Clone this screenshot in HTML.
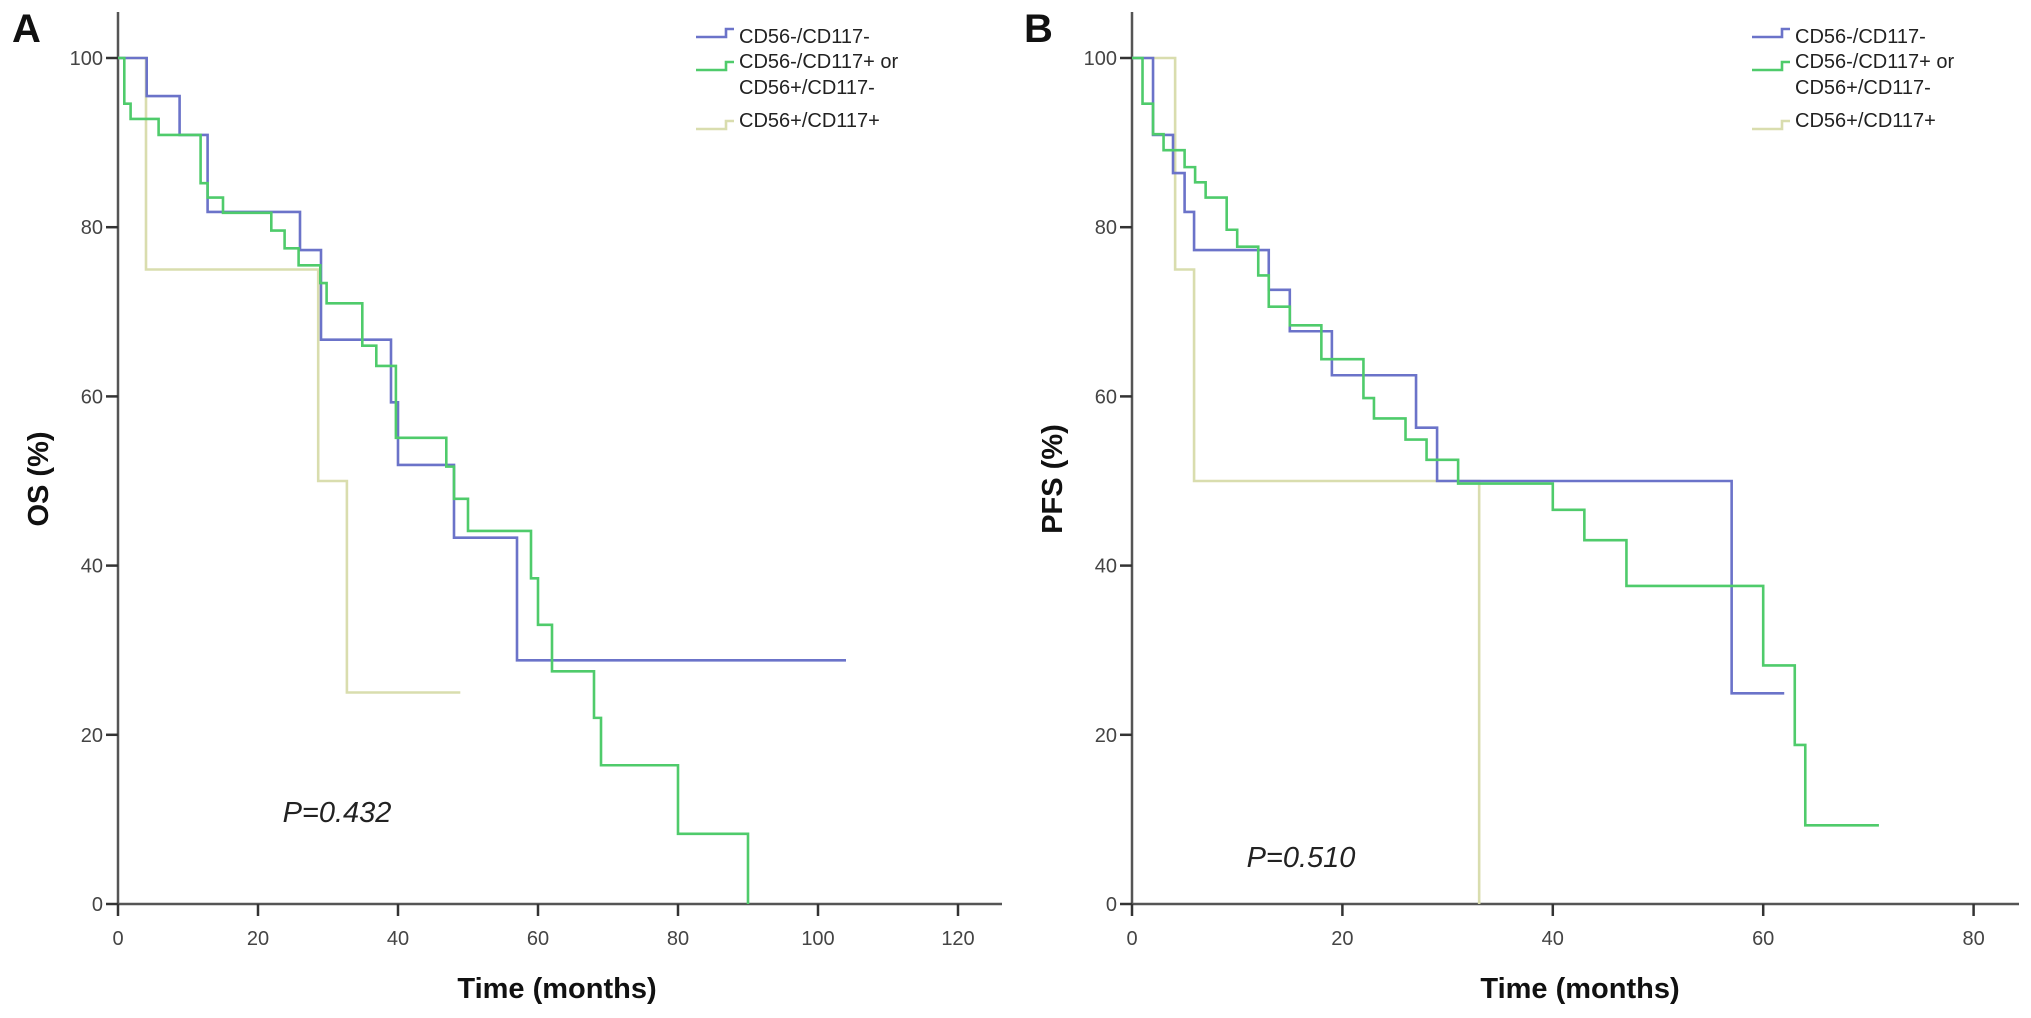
<!DOCTYPE html>
<html><head><meta charset="utf-8"><style>
body{margin:0;background:#fff;}
svg{display:block;font-family:"Liberation Sans",Arial,sans-serif;}
</style></head><body>
<svg id="chart" width="2031" height="1018" viewBox="0 0 2031 1018" xmlns="http://www.w3.org/2000/svg">
<g id="root"></g>
</svg>
<script>
// Panel A (OS)
const aBlueT=[4.1,8.8,12.8,26,29,39,40,48,57];
const aBlueS=[95.5,90.9,81.8,77.3,66.7,59.3,51.9,43.3,28.8];
const aBlueEnd=104;
const aGreenT=[0.9,1.8,5.8,11.8,12.8,15,21.9,23.8,25.8,28.9,29.8,34.9,36.9,39.7,46.9,48,50,59,60,62,68,69,80,90];
const aGreenS=[94.6,92.8,90.9,85.2,83.5,81.7,79.6,77.5,75.5,73.4,71,66,63.6,55.1,51.7,47.9,44.1,38.5,33,27.5,22,16.4,8.3,0];
const aGreenEnd=90;
const aYellowT=[4,28.6,32.7];
const aYellowS=[75,50,25];
const aYellowEnd=48.9;
const aXTicks=[0,20,40,60,80,100,120];
// Panel B (PFS)
const bBlueT=[2,3.9,5,5.9,13,15,19,27,29,57];
const bBlueS=[90.9,86.4,81.8,77.3,72.6,67.7,62.5,56.3,50,24.9];
const bBlueEnd=62;
const bGreenT=[1,2,3,5,6,7,9,10,12,13,15,18,22,23,26,28,31,40,43,47,60,63,64];
const bGreenS=[94.6,91,89.1,87.1,85.3,83.5,79.7,77.7,74.3,70.6,68.4,64.4,59.8,57.4,54.9,52.5,49.7,46.6,43,37.6,28.2,18.8,9.3];
const bGreenEnd=71;
const bYellowT=[4.1,5.9,33];
const bYellowS=[75,50,0];
const bYellowEnd=33;
const bXTicks=[0,20,40,60,80];
const yTicks=[0,20,40,60,80,100];
const legendLabels=[["CD56-/CD117-"],["CD56-/CD117+ or","CD56+/CD117-"],["CD56+/CD117+"]];

const NS="http://www.w3.org/2000/svg";
const root=document.getElementById('root');
const COLORS=["#6b73c9","#4fcb6b","#d9ddae"];
function mk(tag,attrs,parent){const e=document.createElementNS(NS,tag);for(const k in attrs)e.setAttribute(k,attrs[k]);(parent||root).appendChild(e);return e;}
function yScale(v){return 904-v*8.46;}

function panel(p){
  const g=mk('g',{});
  
  
  const xs=t=>p.x0+t*p.k;
  // axes
  const ya=mk('line',{x1:p.x0,y1:12,x2:p.x0,y2:905,stroke:'#555','stroke-width':2.5},g);
  
  
  const xa=mk('line',{x1:p.x0-1,y1:904,x2:p.xEnd,y2:904,stroke:'#555','stroke-width':2.5},g);
  
  
  yTicks.forEach(v=>{
    mk('line',{x1:p.x0-12,y1:yScale(v),x2:p.x0,y2:yScale(v),stroke:'#333','stroke-width':2.5},g);
    const t=mk('text',{x:p.x0-15,y:yScale(v)+7,'text-anchor':'end','font-size':20,fill:'#444'},g);
    t.textContent=v;
    
    
  });
  p.xticks.forEach(v=>{
    mk('line',{x1:xs(v),y1:904,x2:xs(v),y2:916,stroke:'#333','stroke-width':2.5},g);
    const t=mk('text',{x:xs(v),y:945,'text-anchor':'middle','font-size':20,fill:'#444'},g);
    t.textContent=v;
    
    
  });
  // series
  p.series.forEach((s,i)=>{
    let d='M'+xs(0)+','+yScale(100);
    for(let j=0;j<s.T.length;j++){d+=' H'+xs(s.T[j])+' V'+yScale(s.S[j]);}
    d+=' H'+xs(s.end);
    const path=mk('path',{d:d,fill:'none',stroke:COLORS[s.c],'stroke-width':2.6},g);
    
    
  });
  // titles
  const xt=mk('text',{x:p.xTitle,y:998,'text-anchor':'middle','font-size':29,'font-weight':'bold',fill:'#111'},g);
  xt.textContent='Time (months)';
  
  
  const yt=mk('text',{x:0,y:0,'text-anchor':'middle','font-size':29,'font-weight':'bold',fill:'#111',transform:'translate('+p.yTitleX+',479) rotate(-90)'},g);
  yt.textContent=p.yTitle;
  
  
  const lt=mk('text',{x:p.letterX,y:42,'font-size':40,'font-weight':'bold',fill:'#111'},g);
  lt.textContent=p.id;
  
  
  const pv=mk('text',{x:p.pX,y:p.pY,'text-anchor':'middle','font-size':29,'font-style':'italic',fill:'#222'},g);
  pv.textContent=p.pText;
  
  
  // legend
  const lg=mk('g',{},g);
  
  
  const rows=[[29,43],[60,[67,92]],[120,127]];
  legendLabels.forEach((lab,i)=>{
    const sy=[29,62,121][i];
    const sym=mk('path',{d:'M'+p.lx+','+(sy+8)+' H'+(p.lx+30)+' V'+sy+' H'+(p.lx+38),fill:'none',stroke:COLORS[i],'stroke-width':2.6},lg);
    
    
    const ys=[[43],[68,94],[127]][i];
    lab.forEach((L,k)=>{
      const t=mk('text',{x:p.lx+43,y:ys[k],'font-size':20,fill:'#222'},lg);
      t.textContent=L;
      
      
    });
  });
}

panel({id:'A',x0:118,k:7.0,xEnd:1002,xticks:aXTicks,xTitle:557,yTitle:'OS (%)',yTitleX:48,letterX:12,pX:337,pY:822,pText:'P=0.432',lx:696,
  series:[{T:aYellowT,S:aYellowS,end:aYellowEnd,c:2,name:'os-cd56pos-cd117pos-line'},
          {T:aBlueT,S:aBlueS,end:aBlueEnd,c:0,name:'os-cd56neg-cd117neg-line'},
          {T:aGreenT,S:aGreenS,end:aGreenEnd,c:1,name:'os-single-positive-line'}]});
panel({id:'B',x0:1132,k:10.52,xEnd:2019,xticks:bXTicks,xTitle:1580,yTitle:'PFS (%)',yTitleX:1062,letterX:1024,pX:1301,pY:867,pText:'P=0.510',lx:1752,
  series:[{T:bYellowT,S:bYellowS,end:bYellowEnd,c:2,name:'pfs-cd56pos-cd117pos-line'},
          {T:bBlueT,S:bBlueS,end:bBlueEnd,c:0,name:'pfs-cd56neg-cd117neg-line'},
          {T:bGreenT,S:bGreenS,end:bGreenEnd,c:1,name:'pfs-single-positive-line'}]});
</script>
</body></html>
